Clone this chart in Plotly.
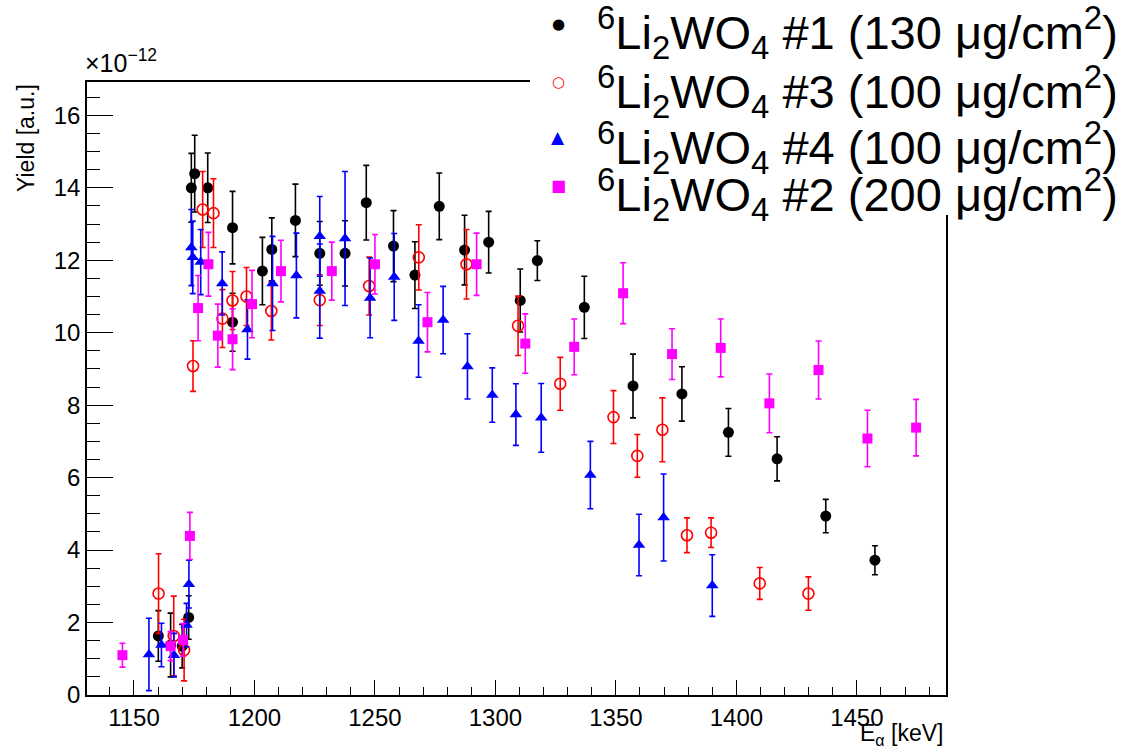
import plotly.graph_objects as go

# ---- data (yield in units of 1e-12) ----
e1 = [1160.1, 1165.2, 1170.0, 1172.7, 1173.8, 1175.2, 1180.6, 1190.9, 1190.9, 1203.3, 1207.2, 1217.0, 1227.1,
      1237.6, 1246.4, 1257.7, 1266.6, 1276.7, 1287.2, 1297.2, 1310.3, 1317.4, 1336.9, 1357.1, 1377.4, 1396.7,
      1416.9, 1437.1, 1457.5]
y1 = [1.63, 1.38, 1.35, 2.14, 14.0, 14.39, 14.0, 12.9, 10.29, 11.7, 12.3, 13.1, 12.19, 12.19, 13.59, 12.39,
      11.59, 13.49, 12.28, 12.5, 10.89, 11.99, 10.7, 8.53, 8.31, 7.25, 6.52, 4.94, 3.72]
d1 = [0.7, 0.88, 0.6, 0.6, 0.95, 1.06, 0.96, 1.0, 0.8, 0.93, 0.87, 1.0, 0.88, 0.9, 1.03, 0.98, 0.92, 0.92,
      0.96, 0.85, 0.87, 0.55, 0.86, 0.88, 0.75, 0.66, 0.61, 0.46, 0.4]

e3 = [1160.2, 1166.5, 1170.8, 1174.5, 1178.5, 1183.0, 1186.7, 1190.9, 1196.7, 1207.0, 1227.1, 1247.6, 1268.2,
      1288.0, 1309.4, 1326.9, 1349.0, 1358.9, 1369.3, 1379.5, 1389.5, 1409.7, 1429.9]
y3 = [2.8, 1.63, 1.24, 9.08, 13.4, 13.3, 10.39, 10.89, 11.0, 10.6, 10.9, 11.29, 12.08, 11.89, 10.19, 8.59,
      7.67, 6.6, 7.32, 4.41, 4.48, 3.08, 2.8]
d3 = [1.1, 1.1, 0.85, 0.7, 1.05, 0.95, 0.8, 0.8, 0.8, 0.8, 0.7, 0.8, 0.9, 0.96, 0.82, 0.73, 0.73, 0.59, 0.88,
      0.48, 0.41, 0.44, 0.46]

e4 = [1156.2, 1161.4, 1166.6, 1171.8, 1172.8, 1173.8, 1174.4, 1177.7, 1186.6, 1197.1, 1207.5, 1217.4, 1227.1,
      1227.1, 1237.6, 1248.0, 1258.0, 1268.1, 1278.3, 1288.4, 1298.7, 1308.5, 1319.0, 1339.4, 1359.6, 1369.8,
      1390.0]
y4 = [1.12, 1.38, 1.1, 1.93, 3.06, 12.35, 12.08, 11.95, 11.36, 10.09, 11.36, 11.58, 12.66, 11.15, 12.6, 10.96,
      11.54, 9.77, 10.35, 9.07, 8.28, 7.74, 7.65, 6.07, 4.14, 4.9, 3.02]
d4 = [1.0, 0.6, 0.6, 0.6, 0.66, 1.05, 1.0, 0.9, 0.87, 0.82, 1.3, 1.17, 1.1, 1.3, 1.85, 1.1, 1.2, 1.0, 0.93,
      0.9, 0.75, 0.85, 0.95, 0.93, 0.85, 1.2, 0.85]

e2 = [1145.2, 1165.2, 1170.4, 1173.2, 1176.6, 1180.9, 1184.8, 1190.9, 1199.0, 1211.0, 1232.1, 1250.0, 1271.8,
      1292.2, 1312.4, 1332.7, 1353.0, 1373.3, 1393.5, 1413.7, 1434.1, 1454.4, 1474.6]
y2 = [1.1, 1.35, 1.52, 4.39, 10.68, 11.89, 9.92, 9.82, 10.79, 11.7, 11.7, 11.89, 10.29, 11.89, 9.7, 9.61,
      11.09, 9.41, 9.58, 8.05, 8.97, 7.08, 7.38]
d2 = [0.33, 0.4, 0.45, 0.65, 0.9, 0.88, 0.87, 0.84, 0.93, 0.85, 0.8, 0.82, 0.82, 0.86, 0.82, 0.77, 0.84, 0.7,
      0.8, 0.81, 0.8, 0.78, 0.78]

names = [
    "<sup>6</sup>Li<sub>2</sub>WO<sub>4</sub> #1 (130 μg/cm<sup>2</sup>)",
    "<sup>6</sup>Li<sub>2</sub>WO<sub>4</sub> #3 (100 μg/cm<sup>2</sup>)",
    "<sup>6</sup>Li<sub>2</sub>WO<sub>4</sub> #4 (100 μg/cm<sup>2</sup>)",
    "<sup>6</sup>Li<sub>2</sub>WO<sub>4</sub> #2 (200 μg/cm<sup>2</sup>)",
]
colors = ["black", "#ff0000", "#0000ff", "#ff00ff"]
glyphs = ["●", "○", "▲", "■"]

FONT = "Liberation Sans, Arial, sans-serif"

# frame in pixels
L, R, T, B = 87, 946, 82, 695


def px(x):
    return (x - L) / (R - L)


def py(y):
    return (B - y) / (B - T)


fig = go.Figure()


def add(e, y, d, name, color, symbol, size, line=None):
    mk = dict(color=color, symbol=symbol, size=size)
    if line:
        mk["line"] = line
    fig.add_trace(go.Scatter(
        x=e, y=y, mode="markers", name=name, marker=mk, showlegend=False,
        error_y=dict(type="data", array=d, visible=True, color=color, thickness=1.6, width=3),
    ))


add(e1, y1, d1, names[0], colors[0], "circle", 11)
add(e3, y3, d3, names[1], colors[1], "circle-open", 11, dict(width=1.6, color=colors[1]))
add(e4, y4, d4, names[2], colors[2], "triangle-up", 11)
add(e2, y2, d2, names[3], colors[3], "square", 10)

annotations = [
    dict(text="E<sub>α</sub> [keV]", xref="paper", yref="paper", x=px(945), y=py(751),
         xanchor="right", yanchor="bottom", showarrow=False, font=dict(size=23, family=FONT)),
    dict(text="Yield [a.u.]", xref="paper", yref="paper", x=px(26), y=py(82),
         xanchor="center", yanchor="top", textangle=-90, showarrow=False,
         font=dict(size=23, family=FONT)),
    dict(text="×10<sup>−12</sup>", xref="paper", yref="paper", x=px(83), y=py(79),
         xanchor="left", yanchor="bottom", showarrow=False, font=dict(size=25, family=FONT)),
]

# legend drawn as text rows
text_y = [33, 91, 147, 195]
mark_y = [24, 82, 137, 185]
gsize = [15, 15, 17, 16]
for i in range(4):
    annotations.append(dict(text=names[i], xref="paper", yref="paper", x=px(595), y=py(text_y[i]),
                            xanchor="left", yanchor="middle", showarrow=False,
                            font=dict(size=47, family=FONT, color="black")))
    annotations.append(dict(text=glyphs[i], xref="paper", yref="paper", x=px(558), y=py(mark_y[i]),
                            xanchor="center", yanchor="middle", showarrow=False,
                            font=dict(size=gsize[i], family="DejaVu Sans", color=colors[i])))

fig.update_layout(
    width=1122, height=752,
    margin=dict(l=L, r=1122 - R, t=T, b=752 - B, autoexpand=False),
    paper_bgcolor="white", plot_bgcolor="white",
    font=dict(family=FONT, color="black"),
    showlegend=False,
    xaxis=dict(
        range=[1130.5, 1487], showgrid=False, zeroline=False,
        showline=True, linecolor="black", linewidth=1.5, mirror=True,
        ticks="inside", ticklen=15, tickwidth=1.2, tickcolor="black",
        tick0=1150, dtick=50,
        minor=dict(ticks="inside", ticklen=8, dtick=10, tickcolor="black", tickwidth=1.2),
        tickfont=dict(size=24, family=FONT),
    ),
    yaxis=dict(
        range=[0, 16.92], showgrid=False, zeroline=False,
        showline=True, linecolor="black", linewidth=1.5, mirror=True,
        ticks="inside", ticklen=26, tickwidth=1.2, tickcolor="black",
        tick0=0, dtick=2,
        minor=dict(ticks="inside", ticklen=13, dtick=0.5, tickcolor="black", tickwidth=1.2),
        tickfont=dict(size=24, family=FONT),
    ),
    shapes=[
        dict(type="rect", xref="paper", yref="paper", x0=px(530), x1=px(1122), y0=py(215), y1=py(0),
             fillcolor="white", line=dict(width=0), layer="above"),
    ],
    annotations=annotations,
)

fig.write_html("out.html")
